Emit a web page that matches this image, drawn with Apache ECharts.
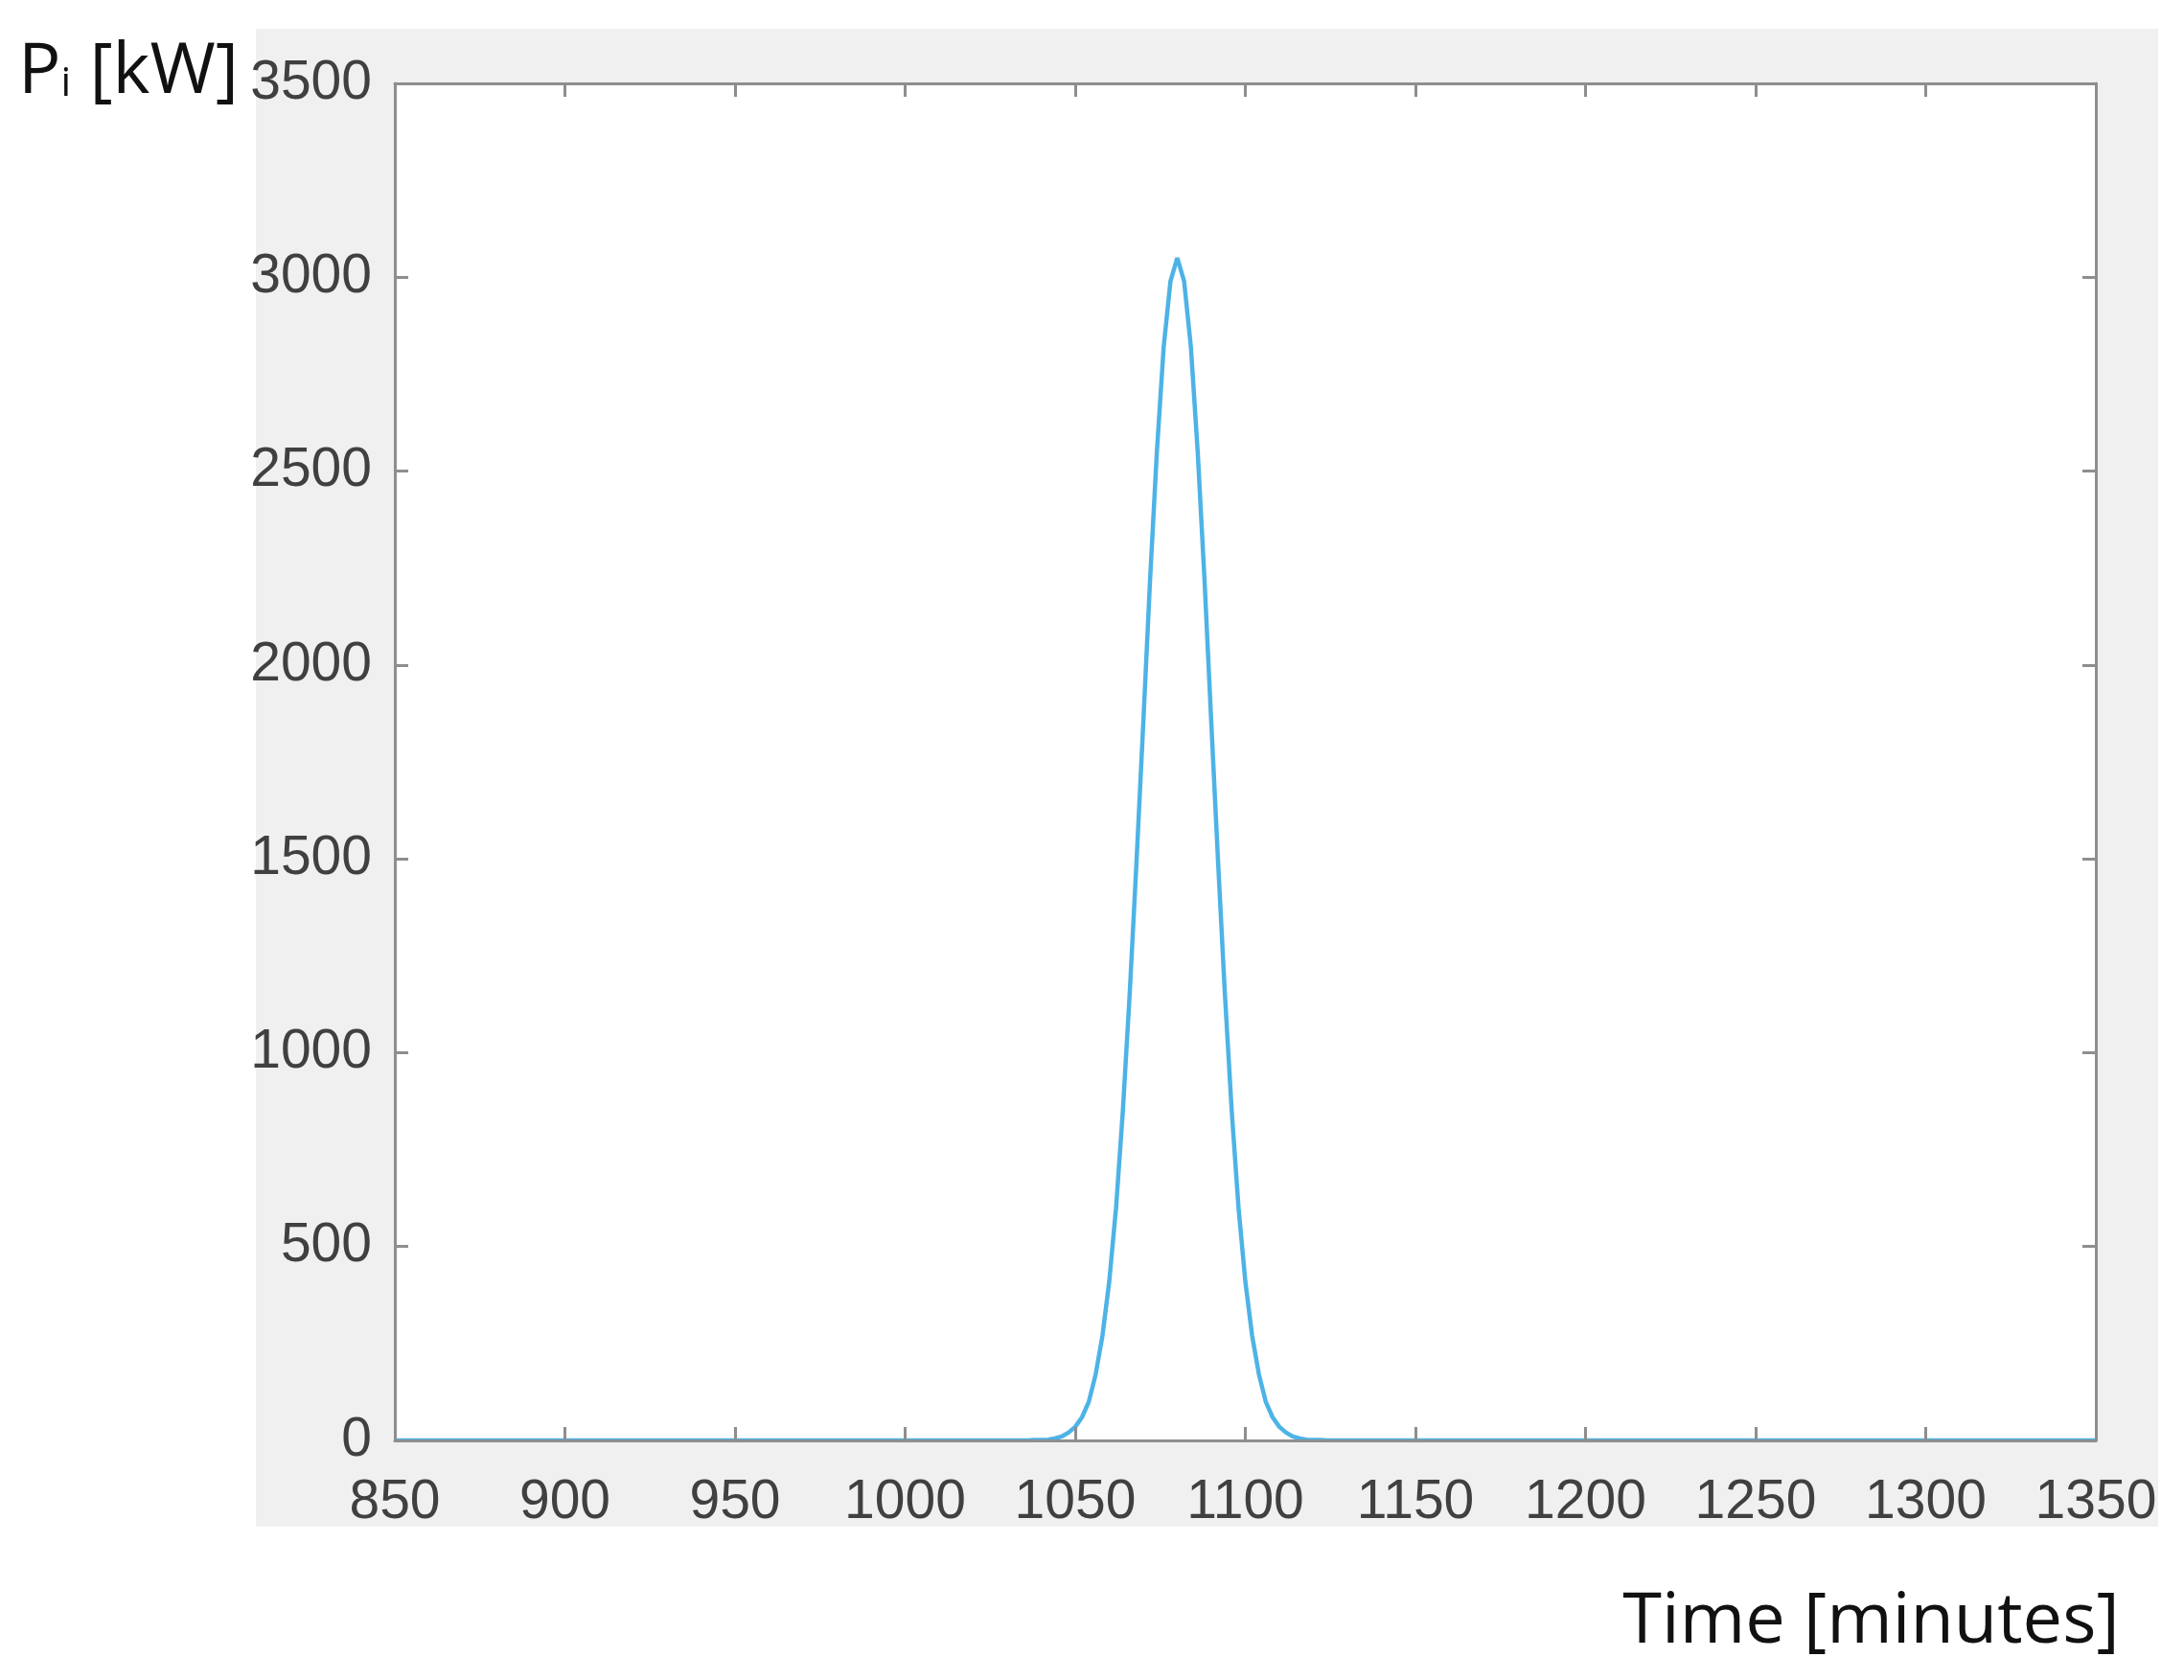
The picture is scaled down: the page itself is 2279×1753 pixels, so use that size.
<!DOCTYPE html>
<html>
<head>
<meta charset="utf-8">
<script src="https://cdn.jsdelivr.net/npm/echarts@6/dist/echarts.min.js"></script>
<style>
html,body{margin:0;padding:0;background:#fff;}
#chart{width:2279px;height:1753px;}
</style>
</head>
<body>
<div id="chart"></div>
<script>
// Time [minutes]
var timeMinutes = [850, 1036, 1038, 1040, 1042, 1044, 1046, 1048, 1050, 1052, 1054, 1056, 1058, 1060, 1062, 1064, 1066, 1068, 1070, 1072, 1074, 1076, 1078, 1080, 1082, 1084, 1086, 1088, 1090, 1092, 1094, 1096, 1098, 1100, 1102, 1104, 1106, 1108, 1110, 1112, 1114, 1116, 1118, 1120, 1122, 1124, 1350];
// Pi [kW]
var powerKW = [0, 0, 1, 1, 2, 5, 10, 20, 35, 60, 100, 170, 270, 410, 600, 850, 1150, 1490, 1850, 2220, 2550, 2820, 2990, 3050, 2990, 2820, 2550, 2220, 1850, 1490, 1150, 850, 600, 410, 270, 170, 100, 60, 35, 20, 10, 5, 2, 1, 1, 0, 0];
var xTicks = [850, 900, 950, 1000, 1050, 1100, 1150, 1200, 1250, 1300, 1350];
var yTicks = [0, 500, 1000, 1500, 2000, 2500, 3000, 3500];
var xTitle = 'Time [minutes]';
var yTitleMain = 'P';
var yTitleSub = 'i';
var yTitleUnit = ' [kW]';

var seriesData = timeMinutes.map(function (t, i) { return [t, powerKW[i]]; });

var frameColor = '#8e8e8e';
var labelFont = "'Liberation Sans', Arial, sans-serif";
var titleFont = "'Open Sans', 'Noto Sans', sans-serif";

function plain(v) { return String(v); }

function xAx(pos, showLabel) {
  return {
    type: 'value', position: pos,
    min: xTicks[0], max: xTicks[xTicks.length - 1], interval: xTicks[1] - xTicks[0],
    z: 5,
    axisLine: { show: true, onZero: false, lineStyle: { color: frameColor, width: 3 } },
    axisTick: { show: true, inside: true, length: 14, lineStyle: { color: frameColor, width: 3 } },
    axisLabel: { show: showLabel, margin: 37, color: '#404040', fontSize: 57, fontFamily: labelFont, formatter: plain, showMinLabel: true, showMaxLabel: true, hideOverlap: false },
    splitLine: { show: false }
  };
}
function yAx(pos, showLabel) {
  return {
    type: 'value', position: pos,
    min: yTicks[0], max: yTicks[yTicks.length - 1], interval: yTicks[1] - yTicks[0],
    z: 5,
    axisLine: { show: true, onZero: false, lineStyle: { color: frameColor, width: 3 } },
    axisTick: { show: true, inside: true, length: 14, lineStyle: { color: frameColor, width: 3 } },
    axisLabel: { show: showLabel, margin: 24, color: '#404040', fontSize: 57, fontFamily: labelFont, formatter: plain, showMinLabel: true, showMaxLabel: true, hideOverlap: false },
    splitLine: { show: false }
  };
}

var xMain = xAx('bottom', true);
xMain.name = xTitle;
xMain.nameLocation = 'middle';
xMain.nameGap = 150;
xMain.nameTextStyle = { color: '#111', fontSize: 74, fontFamily: titleFont, lineHeight: 80, padding: [0, 0, 0, 1306] };

var yMain = yAx('left', true);
yMain.name = '{p|' + yTitleMain + '}{s|' + yTitleSub + '}{p|' + yTitleUnit + '}';
yMain.nameLocation = 'end';
yMain.nameGap = 0;
yMain.nameTextStyle = {
  align: 'right', verticalAlign: 'middle', padding: [0, 163, 38, 0],
  rich: {
    p: { color: '#111', fontSize: 74, fontFamily: titleFont, verticalAlign: 'bottom', lineHeight: 90 },
    s: { color: '#111', fontSize: 42, fontFamily: titleFont, verticalAlign: 'bottom', lineHeight: 90, padding: [0, 0, 4, 0] }
  }
};

var chart = echarts.init(document.getElementById('chart'), null, { renderer: 'canvas' });
chart.setOption({
  animation: false,
  backgroundColor: '#ffffff',
  graphic: [{
    type: 'rect', z: -100, silent: true,
    shape: { x: 267, y: 30, width: 1985, height: 1563 },
    style: { fill: '#f0f0f0' }
  }],
  grid: { left: 412, right: 92, top: 87, bottom: 250, show: true, backgroundColor: '#ffffff', borderWidth: 0, containLabel: false, outerBoundsMode: 'none' },
  xAxis: [xMain, xAx('top', false)],
  yAxis: [yMain, yAx('right', false)],
  series: [{
    type: 'line',
    xAxisIndex: 0, yAxisIndex: 0,
    data: seriesData,
    showSymbol: false,
    smooth: false,
    lineStyle: { color: '#4db3e6', width: 4.5 },
    z: 2
  }]
});
</script>
</body>
</html>
